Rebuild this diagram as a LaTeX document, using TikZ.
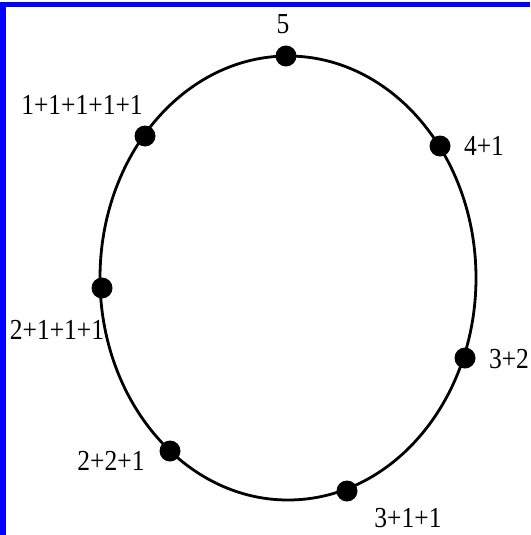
\documentclass[tikz,border=0pt]{standalone}
\usepackage{fontspec}
\setmainfont{Liberation Serif}[FakeStretch=0.88]
\begin{document}
\begin{tikzpicture}[x=1pt,y=-1pt,dot/.style={circle,fill=black,inner sep=0pt,minimum width=19pt,minimum height=21pt},lbl/.style={inner sep=0pt,font=\fontsize{29}{29}\selectfont}]
\useasboundingbox (0,0) rectangle (530,535);
\fill[blue] (0,2) rectangle (530,7);\fill[blue] (0,2) rectangle (5.5,535);
\draw[line width=2.8pt] (288,278) ellipse [x radius=188pt,y radius=222pt];
\foreach \n/\x/\y in {p5/286/56,pa/145/136,pb/440/146,pc/102/288,pd/465/358,pe/170/451,pf/347/491}{\node[dot] (\n) at (\x,\y) {};}
\foreach \n/\x/\y/\t in {t5/283/24/5,ta/82/105/1+1+1+1+1,tb/484/146/4+1,tc/57/330/2+1+1+1,td/509/359/3+2,te/111/461/2+2+1,tf/408/518/3+1+1}{\node[lbl] (\n) at (\x,\y) {\t};}
\end{tikzpicture}
\end{document}
